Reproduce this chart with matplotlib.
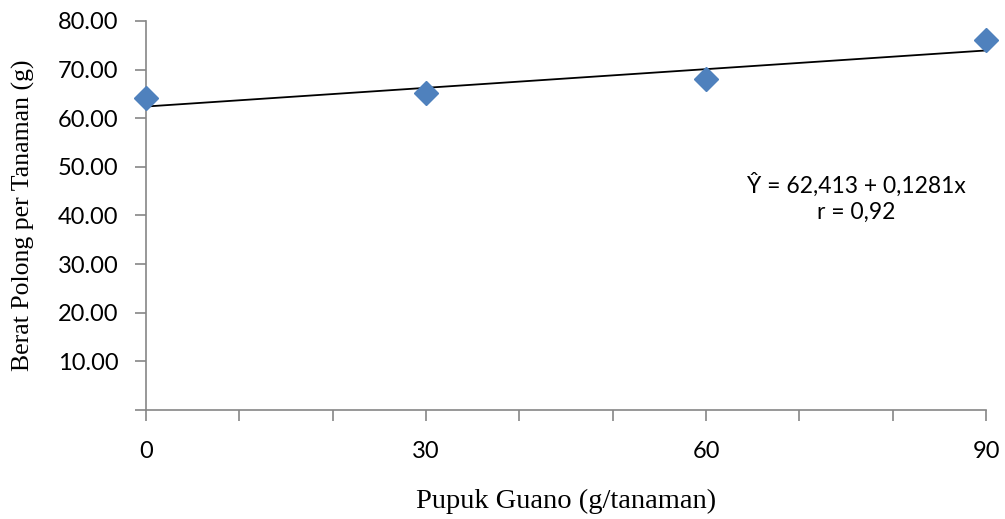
import numpy as np
import matplotlib.pyplot as plt

# data
dosis = [0, 30, 60, 90]
berat = [64.2, 65.2, 68.0, 76.0]
a, b = 62.413, 0.1281

fig = plt.figure(figsize=(10.05, 5.19), dpi=100)
ax = fig.add_axes([146/1005, 1 - 410/519, (986 - 146)/1005, (410 - 21)/519])

# regression line
xl = np.array([0, 90])
ax.plot(xl, a + b * xl, color='black', lw=1.3, zorder=2)
ax.plot(dosis, berat, 'D', color='#4F81BD', markersize=12, zorder=3, clip_on=False)

ax.set_xlim(0, 90)
ax.set_ylim(0, 80)
ax.set_xticks(np.arange(0, 91, 10))
ax.set_xticklabels(['0', '', '', '30', '', '', '60', '', '', '90'])
ax.set_yticks(np.arange(0, 81, 10))
ax.set_yticklabels([''] + ['%.2f' % v for v in range(10, 81, 10)])

for s in ['top', 'right']:
    ax.spines[s].set_visible(False)
for s in ['left', 'bottom']:
    ax.spines[s].set_color('#868686')
    ax.spines[s].set_linewidth(1.2)
ax.tick_params(axis='both', colors='#868686', width=1.2, length=8, labelcolor='black',
               labelsize=17, direction='out')
ax.tick_params(axis='x', pad=14)
ax.tick_params(axis='y', pad=12)
for t in ax.get_xticklabels() + ax.get_yticklabels():
    t.set_fontfamily('Lato')

ax.set_xlabel('Pupuk Guano (g/tanaman)', family='Liberation Serif', fontsize=20.5, labelpad=20)
ax.set_ylabel('Berat Polong per Tanaman (g)', family='Liberation Serif', fontsize=18.5, labelpad=16)

ax.text(856, 519 - 198, 'Ŷ = 62,413 + 0,1281x\nr = 0,92', transform=None, ha='center', va='center',
        family='Lato', fontsize=16.5, linespacing=1.3)

fig.savefig('out.png', dpi=100)
